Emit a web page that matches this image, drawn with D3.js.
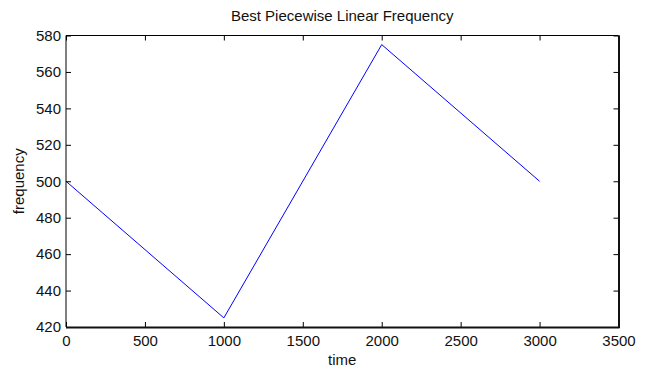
<!DOCTYPE html>
<html><head><meta charset="utf-8">
<script src="https://cdn.jsdelivr.net/npm/d3@7"></script>
<style>body{margin:0;background:#fff}svg{display:block}text{font-family:"Liberation Sans",Arial,sans-serif;fill:#111}</style>
</head><body>
<script>
const times = [0, 1000, 2000, 3000];
const freqs = [500, 425, 575, 500];
const xTicks = [0, 500, 1000, 1500, 2000, 2500, 3000, 3500];
const yTicks = [420, 440, 460, 480, 500, 520, 540, 560, 580];
const title = "Best Piecewise Linear Frequency";
const xLabel = "time";
const yLabel = "frequency";

const W = 647, H = 368;
const m = {l: 66, r: 28.5, t: 35.5, b: 41};
const svg = d3.select("body").append("svg").attr("width", W).attr("height", H);
const x = d3.scaleLinear().domain([0, 3500]).range([m.l, W - m.r]);
const y = d3.scaleLinear().domain([420, 580]).range([H - m.b, m.t]);
const fs = "15px";

// line
svg.append("path").datum(times.map((t, i) => [t, freqs[i]]))
  .attr("fill", "none").attr("stroke", "#0000ff").attr("stroke-width", 1)
  .attr("d", d3.line().x(d => x(d[0])).y(d => y(d[1])));

// axes with inward ticks
const gB = svg.append("g").attr("transform", `translate(0,${H - m.b})`)
  .call(d3.axisBottom(x).tickValues(xTicks).tickSizeInner(-5).tickSizeOuter(0).tickPadding(8).tickFormat(d3.format("d")));
const gT = svg.append("g").attr("transform", `translate(0,${m.t})`)
  .call(d3.axisTop(x).tickValues(xTicks).tickSizeInner(-5).tickSizeOuter(0).tickFormat(""));
const gL = svg.append("g").attr("transform", `translate(${m.l},0)`)
  .call(d3.axisLeft(y).tickValues(yTicks).tickSizeInner(-5).tickSizeOuter(0).tickPadding(5));
const gR = svg.append("g").attr("transform", `translate(${W - m.r},0)`)
  .call(d3.axisRight(y).tickValues(yTicks).tickSizeInner(-5).tickSizeOuter(0).tickFormat(""));
[gB, gT, gL, gR].forEach(g => {
  g.selectAll(".domain").remove();
  g.selectAll("line").attr("stroke", "#000");
  g.selectAll("text").style("font-size", fs).attr("fill", "#111");
});

// box
const bx = [x.range()[0], x.range()[1]], by = [y.range()[1], y.range()[0]];
svg.append("line").attr("x1", bx[0]).attr("x2", bx[1]).attr("y1", by[0]).attr("y2", by[0]).attr("stroke", "#000");
svg.append("line").attr("x1", bx[0]).attr("x2", bx[0]).attr("y1", by[0]).attr("y2", by[1]).attr("stroke", "#000");
svg.append("line").attr("x1", bx[0]).attr("x2", bx[1] + 1).attr("y1", by[1] + 0.5).attr("y2", by[1] + 0.5).attr("stroke", "#111").attr("stroke-width", 2);
svg.append("line").attr("x1", bx[1] + 0.5).attr("x2", bx[1] + 0.5).attr("y1", by[0]).attr("y2", by[1] + 1).attr("stroke", "#111").attr("stroke-width", 2);

svg.append("text").attr("x", (bx[0] + bx[1]) / 2).attr("y", 21).attr("text-anchor", "middle").style("font-size", fs).text(title);
svg.append("text").attr("x", (bx[0] + bx[1]) / 2).attr("y", 365).attr("text-anchor", "middle").style("font-size", fs).text(xLabel);
svg.append("text").attr("transform", `translate(24,${(by[0] + by[1]) / 2}) rotate(-90)`).attr("text-anchor", "middle").style("font-size", fs).text(yLabel);
</script>
</body></html>
